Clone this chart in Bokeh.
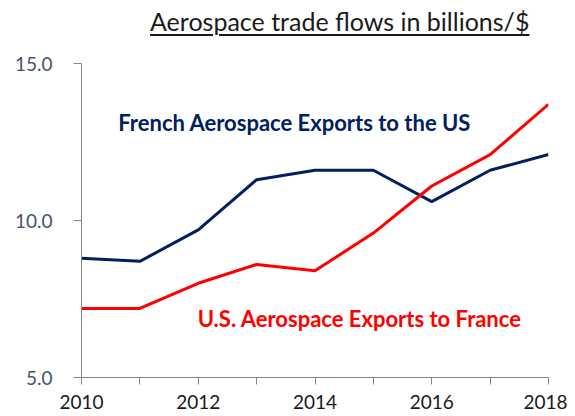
from bokeh.plotting import figure
from bokeh.models import Div, FixedTicker, CustomJSTickFormatter, Label
from bokeh.layouts import column
from bokeh.embed import file_html
from bokeh.resources import INLINE

years = [2010, 2011, 2012, 2013, 2014, 2015, 2016, 2017, 2018]
french_exports_to_us = [8.8, 8.7, 9.7, 11.3, 11.6, 11.6, 10.6, 11.6, 12.1]
us_exports_to_france = [7.2, 7.2, 8.0, 8.6, 8.4, 9.6, 11.1, 12.1, 13.7]
x_tick_labels = [2010, 2012, 2014, 2016, 2018]
y_ticks = [5.0, 10.0, 15.0]
title_text = "Aerospace trade flows in billions/$"
french_label = "French Aerospace Exports to the US"
us_label = "U.S. Aerospace Exports to France"

FONT = "Lato"
NAVY = "#002060"
RED = "#FF0000"

title = Div(
    text=f'<div style="font-family:{FONT};font-size:25px;color:#1a1a1a;line-height:30px;'
         f'text-decoration:underline;text-decoration-thickness:2px;text-underline-offset:3px;'
         f'padding-left:150px;padding-top:6px;white-space:nowrap;">{title_text}</div>',
    width=567, height=40, margin=(0, 0, 0, 0),
)

p = figure(width=567, height=374, x_range=(2010, 2018), y_range=(5, 15),
           output_backend="svg", toolbar_location=None,
           min_border_left=81, min_border_right=19, min_border_top=23,
           min_border_bottom=37, margin=(0, 0, 0, 0))
p.outline_line_color = None
p.xgrid.visible = False
p.ygrid.visible = False
p.background_fill_color = "white"
p.border_fill_color = "white"

p.line(years, french_exports_to_us, line_color=NAVY, line_width=3)
p.line(years, us_exports_to_france, line_color=RED, line_width=3)

ax = p.xaxis[0]
ax.ticker = FixedTicker(ticks=x_tick_labels, minor_ticks=[y for y in years if y not in x_tick_labels])
ax.axis_line_color = "#868686"
ax.major_tick_line_color = "#868686"
ax.minor_tick_line_color = "#868686"
ax.major_tick_in = 0
ax.major_tick_out = 7
ax.minor_tick_in = 0
ax.minor_tick_out = 7
ax.major_label_text_font = FONT
ax.major_label_text_font_size = "19px"
ax.major_label_text_color = "#1a1a1a"
ax.major_label_standoff = 10

ay = p.yaxis[0]
ay.ticker = FixedTicker(ticks=y_ticks, minor_ticks=[])
ay.formatter = CustomJSTickFormatter(code="return tick.toFixed(1);")
ay.axis_line_color = "#868686"
ay.major_tick_line_color = "#868686"
ay.major_tick_in = 0
ay.major_tick_out = 8
ay.minor_tick_line_color = None
ay.major_label_text_font = FONT
ay.major_label_text_font_size = "19px"
ay.major_label_text_color = "#44546A"
ay.major_label_standoff = 21

p.add_layout(Label(x=2010.63, y=13.12, text=french_label, text_font=FONT,
                   text_font_size="22px", text_font_style="bold", text_color=NAVY,
                   text_align="left", text_baseline="middle"))
p.add_layout(Label(x=2011.99, y=6.88, text=us_label, text_font=FONT,
                   text_font_size="22px", text_font_style="bold", text_color=RED,
                   text_align="left", text_baseline="middle"))

layout = column(title, p, spacing=0)
open("out.html", "w").write(file_html(layout, INLINE))
